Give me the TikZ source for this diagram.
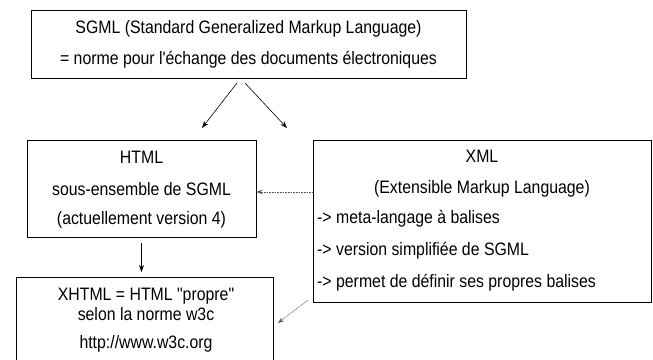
\documentclass[tikz,border=0pt]{standalone}
\usepackage{fontspec}
\setmainfont{Liberation Sans}[FakeStretch=0.88,Ligatures=TeXOff]
\usetikzlibrary{arrows.meta}
\begin{document}
\begin{tikzpicture}[x=1pt,y=-1pt,
  box/.style={draw,line width=0.9pt,rectangle,inner sep=0pt},
  txt/.style={font=\fontsize{18}{20}\selectfont,inner sep=0pt,anchor=base},
  ltxt/.style={txt,anchor=base west},
  arr/.style={-{Stealth[length=7pt,width=5pt]},line width=0.6pt},
  darr/.style={-{Stealth[length=6pt,width=4.5pt]},line width=0.7pt,dash pattern=on 0.8pt off 0.8pt,gray!70!black}]
\clip (0,0) rectangle (653,359);
\fill[white] (0,0) rectangle (653,359);
% boxes
\node[box,minimum width=435pt,minimum height=68pt] (sgml) at (248.5,44) {};
\node[box,minimum width=229pt,minimum height=97pt] (html) at (141.5,188.5) {};
\node[box,minimum width=338pt,minimum height=162pt] (xml) at (482,221) {};
\node[box,minimum width=257pt,minimum height=100pt] (xhtml) at (144.5,327) {};
% texts
\node[txt] (s1) at (248.5,33) {SGML (Standard Generalized Markup Language)};
\node[txt] (s2) at (248.5,64) {= norme pour l'échange des documents électroniques};
\node[txt] (h1) at (141.5,163) {HTML};
\node[txt] (h2) at (141.5,195) {sous-ensemble de SGML};
\node[txt] (h3) at (141.5,224) {(actuellement version 4)};
\node[txt] (x1) at (482,162) {XML};
\node[txt] (x2) at (482,193) {(Extensible Markup Language)};
\node[ltxt] (x3) at (317,223) {-> meta-langage à balises};
\node[ltxt] (x4) at (317,255) {-> version simplifiée de SGML};
\node[ltxt] (x5) at (317,287) {-> permet de définir ses propres balises};
\node[txt] (t1) at (146,300) {XHTML = HTML "propre"};
\node[txt] (t2) at (146,320) {selon la norme w3c};
\node[txt] (t3) at (146,348) {http://www.w3c.org};
% connectors
\coordinate (a1s) at (237,83);
\coordinate (a1e) at (202,128);
\coordinate (a2s) at (245,83);
\coordinate (a2e) at (287,128);
\draw[arr] (a1s) -- (a1e);
\draw[arr] (a2s) -- (a2e);
\coordinate (h4s) at (141.5,243);
\coordinate (h4e) at (141.5,272);
\draw[arr] (h4s) -- (h4e);
\draw[darr] (xml.west |- 0,192) -- (html.east |- 0,192);
\coordinate (d2s) at (308,300);
\coordinate (d2e) at (278,323);
\draw[darr] (d2s) -- (d2e);
\end{tikzpicture}
\end{document}
